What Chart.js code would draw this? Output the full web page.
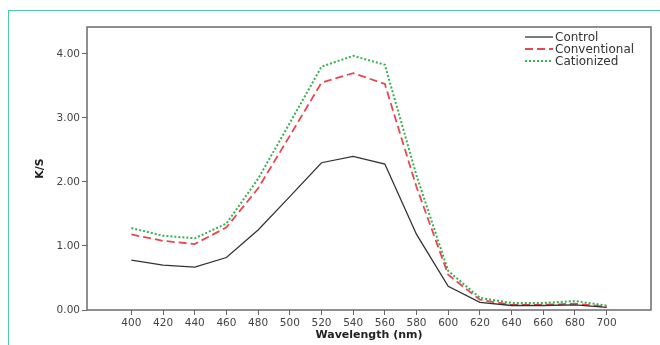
<!DOCTYPE html>
<html>
<head>
<meta charset="utf-8">
<script src="https://cdn.jsdelivr.net/npm/chart.js@4.4.1/dist/chart.umd.min.js"></script>
<style>
    html, body { margin: 0; padding: 0; background: #fff; }
    #wrap { position: relative; width: 660px; height: 345px; overflow: hidden; }
    #frame { position: absolute; left: 8px; top: 10px; width: 700px; height: 400px;
             border-top: 1px solid #4ccab0; border-left: 1px solid #4ccab0; pointer-events: none; }
    canvas { position: absolute; left: 0; top: 0; }
</style>
</head>
<body>
<div id="wrap">
    <canvas id="ksChart" width="660" height="345"></canvas>
    <div id="frame"></div>
</div>
<script>
const wavelengths = [400, 420, 440, 460, 480, 500, 520, 540, 560, 580, 600, 620, 640, 660, 680, 700];
const control = [0.78, 0.70, 0.67, 0.82, 1.25, 1.77, 2.30, 2.40, 2.28, 1.18, 0.37, 0.12, 0.07, 0.07, 0.08, 0.04];
const conventional = [1.18, 1.08, 1.03, 1.29, 1.90, 2.72, 3.55, 3.70, 3.53, 1.92, 0.55, 0.16, 0.08, 0.08, 0.10, 0.05];
const cationized = [1.28, 1.16, 1.12, 1.35, 2.05, 2.92, 3.80, 3.97, 3.83, 2.10, 0.61, 0.19, 0.11, 0.11, 0.14, 0.07];
const yTicks = [0, 1, 2, 3, 4];

const fontFamily = '"DejaVu Sans", Arial, sans-serif';

function toPoints(values) {
    return values.map((v, i) => ({ x: wavelengths[i], y: v }));
}

// box round the plot area, like the SPSS output
const boxPlugin = {
    id: 'box',
    afterDatasetsDraw(chart) {
        const { ctx, chartArea: a } = chart;
        ctx.save();
        ctx.strokeStyle = '#6b6b6b';
        ctx.lineWidth = 1.5;
        ctx.strokeRect(a.left, a.top, a.right - a.left, a.bottom - a.top);
        ctx.restore();
    }
};

// legend drawn inside the top right corner
const legendPlugin = {
    id: 'insideLegend',
    afterDraw(chart) {
        const ctx = chart.ctx;
        const x0 = 525, x1 = 553, textX = 555;
        const rows = [37, 49, 61];
        ctx.save();
        chart.data.datasets.forEach((ds, i) => {
            const y = rows[i];
            ctx.beginPath();
            ctx.setLineDash(ds.borderDash || []);
            ctx.strokeStyle = ds.borderColor;
            ctx.lineWidth = ds.borderWidth;
            ctx.moveTo(x0, y);
            ctx.lineTo(x1, y);
            ctx.stroke();
            ctx.setLineDash([]);
            ctx.fillStyle = '#333';
            ctx.font = '12px ' + fontFamily;
            ctx.textBaseline = 'middle';
            ctx.textAlign = 'left';
            ctx.fillText(ds.label, textX, y + 1);
        });
        ctx.restore();
    }
};

const ctx = document.getElementById('ksChart').getContext('2d');
const ksChart = new Chart(ctx, {
    type: 'line',
    data: {
        datasets: [{
            label: 'Control',
            data: toPoints(control),
            borderColor: '#333333',
            borderWidth: 1.3,
            pointRadius: 0,
            tension: 0
        }, {
            label: 'Conventional',
            data: toPoints(conventional),
            borderColor: '#e8474f',
            borderWidth: 1.8,
            borderDash: [8, 4],
            pointRadius: 0,
            tension: 0
        }, {
            label: 'Cationized',
            data: toPoints(cationized),
            borderColor: '#34b24c',
            borderWidth: 2,
            borderDash: [2, 2],
            pointRadius: 0,
            tension: 0
        }]
    },
    options: {
        responsive: false,
        animation: false,
        layout: { padding: { left: 0, top: 27, right: 9, bottom: 0 } },
        plugins: {
            legend: { display: false },
            tooltip: { enabled: false }
        },
        scales: {
            x: {
                type: 'linear',
                min: 372,
                max: 728,
                afterBuildTicks: scale => { scale.ticks = wavelengths.map(v => ({ value: v })); },
                afterFit: scale => { scale.height = 35; },
                grid: { drawOnChartArea: false, tickLength: 5, color: '#666' },
                border: { display: false },
                ticks: {
                    autoSkip: false,
                    maxRotation: 0,
                    padding: 2,
                    color: '#444',
                    font: { family: fontFamily, size: 10.5 }
                },
                title: {
                    display: true,
                    text: 'Wavelength (nm)',
                    color: '#222',
                    padding: { top: 0, bottom: 3 },
                    font: { family: fontFamily, size: 11, weight: 'bold' }
                }
            },
            y: {
                min: 0,
                max: 4.42,
                afterBuildTicks: scale => { scale.ticks = yTicks.map(v => ({ value: v })); },
                afterFit: scale => { scale.width = 87; },
                grid: { drawOnChartArea: false, tickLength: 5, color: '#666' },
                border: { display: false },
                ticks: {
                    padding: 2,
                    color: '#444',
                    font: { family: fontFamily, size: 10.5 },
                    callback: v => v.toFixed(2)
                },
                title: {
                    display: true,
                    text: 'K/S',
                    color: '#222',
                    padding: { top: 34, bottom: 0 },
                    font: { family: fontFamily, size: 11, weight: 'bold' }
                }
            }
        }
    },
    plugins: [boxPlugin, legendPlugin]
});
</script>
</body>
</html>
